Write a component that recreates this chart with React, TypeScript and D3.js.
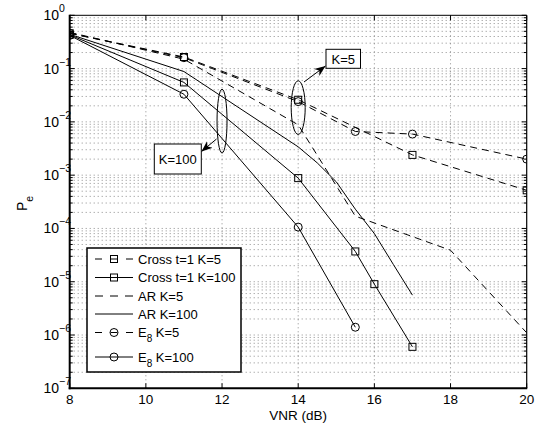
import React from "react";
import * as d3 from "d3";

// values
const crossK5X = [8, 11, 14, 17, 20];
const crossK5Y = [0.46, 0.165, 0.026, 0.0024, 0.00052];
const crossK100X = [8, 11, 14, 15.5, 16, 17];
const crossK100Y = [0.43, 0.055, 0.00088, 3.7e-5, 9e-6, 6e-7];
const arK5X = [8, 11, 14, 15.5, 18, 20];
const arK5Y = [0.48, 0.15, 0.0088, 1.7e-4, 3.9e-5, 1.1e-6];
const arK100X = [8, 11, 14, 14.5, 15, 15.5, 16, 16.5, 17];
const arK100Y = [0.44, 0.088, 3.4e-3, 1.7e-3, 7.5e-4, 2.3e-4, 8e-5, 2.1e-5, 5.6e-6];
const e8K5X = [8, 11, 14, 15.5, 17, 20];
const e8K5Y = [0.46, 0.16, 0.024, 0.0066, 0.0059, 0.002];
const e8K100X = [8, 11, 14, 15.5];
const e8K100Y = [0.42, 0.033, 1.06e-4, 1.4e-6];

const xTicks = [8, 10, 12, 14, 16, 18, 20];
const yExps = [0, -1, -2, -3, -4, -5, -6, -7];

type Series = {
  name: string;
  sub?: string;
  rest: string;
  xs: number[];
  ys: number[];
  dashed: boolean;
  marker: "square" | "circle" | null;
};

const series: Series[] = [
  { name: "Cross t=1 K=5", rest: "", xs: crossK5X, ys: crossK5Y, dashed: true, marker: "square" },
  { name: "Cross t=1 K=100", rest: "", xs: crossK100X, ys: crossK100Y, dashed: false, marker: "square" },
  { name: "AR K=5", rest: "", xs: arK5X, ys: arK5Y, dashed: true, marker: null },
  { name: "AR K=100", rest: "", xs: arK100X, ys: arK100Y, dashed: false, marker: null },
  { name: "E", sub: "8", rest: " K=5", xs: e8K5X, ys: e8K5Y, dashed: true, marker: "circle" },
  { name: "E", sub: "8", rest: " K=100", xs: e8K100X, ys: e8K100Y, dashed: false, marker: "circle" },
];

const W = 537;
const H = 423;
const m = { left: 69.7, right: 10.3, top: 15.3, bottom: 34.7 };
const FONT = "'Liberation Sans', Arial, Helvetica, sans-serif";
const DASH = "7,5";

const Marker = ({ kind, x, y }: { kind: string | null; x: number; y: number }) => {
  if (kind === "square")
    return <rect x={x - 3.5} y={y - 3.5} width={7} height={7} fill="none" stroke="#000" strokeWidth={1} />;
  if (kind === "circle") return <circle cx={x} cy={y} r={4} fill="none" stroke="#000" strokeWidth={1} />;
  return null;
};

const App = () => {
  const x = d3.scaleLinear().domain([8, 20]).range([m.left, W - m.right]);
  const y = d3.scaleLog().domain([1e-7, 1]).range([H - m.bottom, m.top]);
  const x0 = m.left;
  const x1 = W - m.right;
  const y0 = H - m.bottom;
  const y1 = m.top;

  const minor: number[] = [];
  for (let e = -7; e < 0; e++) for (let k = 2; k <= 9; k++) minor.push(k * Math.pow(10, e));

  const line = d3
    .line<[number, number]>()
    .x((d) => x(d[0]))
    .y((d) => y(d[1]));

  const legX = 87;
  const legY = 248;
  const rowsY = [259, 277.5, 296, 314, 332.5, 357];

  return (
    <svg width={W} height={H} style={{ position: "absolute", left: 0, top: 0, background: "#fff" }} fontFamily={FONT}>
      <defs>
        <marker id="arr" viewBox="0 0 10 10" refX="10" refY="5" markerWidth="11" markerHeight="11" markerUnits="userSpaceOnUse" orient="auto">
          <path d="M0,1 L10,5 L0,9 L3,5 Z" fill="#000" />
        </marker>
        <clipPath id="plot">
          <rect x={x0} y={y1} width={x1 - x0} height={y0 - y1} />
        </clipPath>
      </defs>
      <rect x={0} y={0} width={W} height={H} fill="#fff" />

      {/* grid */}
      <g stroke="#707070" strokeWidth={0.8} strokeDasharray="1,3">
        {xTicks.slice(1, -1).map((t) => (
          <line key={"gx" + t} x1={x(t)} x2={x(t)} y1={y1} y2={y0} />
        ))}
        {yExps.slice(1, -1).map((e) => (
          <line key={"gy" + e} x1={x0} x2={x1} y1={y(Math.pow(10, e))} y2={y(Math.pow(10, e))} />
        ))}
        {minor.map((v) => (
          <line key={"gm" + v} x1={x0} x2={x1} y1={y(v)} y2={y(v)} />
        ))}
      </g>

      {/* ticks */}
      <g stroke="#000" strokeWidth={1}>
        {xTicks.map((t) => (
          <g key={"tx" + t}>
            <line x1={x(t)} x2={x(t)} y1={y0} y2={y0 - 5} />
            <line x1={x(t)} x2={x(t)} y1={y1} y2={y1 + 5} />
          </g>
        ))}
        {yExps.map((e) => (
          <g key={"ty" + e}>
            <line x1={x0} x2={x0 + 5} y1={y(Math.pow(10, e))} y2={y(Math.pow(10, e))} />
            <line x1={x1} x2={x1 - 5} y1={y(Math.pow(10, e))} y2={y(Math.pow(10, e))} />
          </g>
        ))}
        {minor.map((v) => (
          <g key={"tm" + v}>
            <line x1={x0} x2={x0 + 3} y1={y(v)} y2={y(v)} />
            <line x1={x1} x2={x1 - 3} y1={y(v)} y2={y(v)} />
          </g>
        ))}
      </g>

      {/* series */}
      <g clipPath="url(#plot)">
        {series.map((s, i) => {
          const pts = s.xs.map((v, j) => [v, s.ys[j]] as [number, number]);
          return (
            <g key={"s" + i}>
              <path d={line(pts) || ""} fill="none" stroke="#000" strokeWidth={1} strokeDasharray={s.dashed ? DASH : undefined} />
              {pts.map((p, j) => (
                <Marker key={j} kind={s.marker} x={x(p[0])} y={y(p[1])} />
              ))}
            </g>
          );
        })}
      </g>

      {/* annotations */}
      <ellipse cx={x(12)} cy={(y(0.041) + y(2.6e-3)) / 2} rx={5} ry={(y(2.6e-3) - y(0.041)) / 2} fill="none" stroke="#000" strokeWidth={1} />
      <line x1={216.5} y1={139} x2={201.5} y2={151.5} stroke="#000" strokeWidth={1} markerEnd="url(#arr)" />
      <rect x={154.3} y={144} width={47} height={30} fill="#fff" stroke="#000" strokeWidth={1} />
      <text x={177.8} y={164} fontSize={13} textAnchor="middle">K=100</text>

      <ellipse cx={x(14)} cy={(y(0.059) + y(5.8e-3)) / 2} rx={7} ry={(y(5.8e-3) - y(0.059)) / 2} fill="none" stroke="#000" strokeWidth={1} />
      <line x1={304} y1={82} x2={325.5} y2={66} stroke="#000" strokeWidth={1} markerEnd="url(#arr)" />
      <rect x={326} y={49.3} width={34.5} height={19} fill="#fff" stroke="#000" strokeWidth={1} />
      <text x={343.3} y={63.5} fontSize={13} textAnchor="middle">K=5</text>

      {/* axes box */}
      <line x1={x0} x2={x1} y1={y1} y2={y1} stroke="#000" strokeWidth={1} />
      <line x1={x1} x2={x1} y1={y1} y2={y0} stroke="#000" strokeWidth={1.2} />
      <line x1={x0} x2={x0} y1={y1 - 0.5} y2={y0 + 1} stroke="#000" strokeWidth={2} />
      <line x1={x0 - 1} x2={x1 + 0.5} y1={y0} y2={y0} stroke="#000" strokeWidth={2} />

      {/* tick labels */}
      {xTicks.map((t) => (
        <text key={"lx" + t} x={x(t)} y={404} fontSize={13.5} textAnchor="middle">
          {t}
        </text>
      ))}
      {yExps.map((e) => (
        <text key={"ly" + e} x={43.5} y={y(Math.pow(10, e)) + 5} fontSize={14}>
          10
          <tspan fontSize={10.5} dy={-8}>
            {e === 0 ? "0" : "\u2212" + -e}
          </tspan>
        </text>
      ))}

      <text x={(x0 + x1) / 2} y={420} fontSize={13.5} textAnchor="middle">VNR (dB)</text>
      <text transform="translate(27,211) rotate(-90)" fontSize={14}>
        P
        <tspan fontSize={10.5} dy={6}>e</tspan>
      </text>

      {/* legend */}
      <rect x={legX} y={legY} width={154} height={124} fill="#fff" stroke="#000" strokeWidth={1.5} />
      {series.map((s, i) => {
        const ry = rowsY[i];
        return (
          <g key={"lg" + i}>
            {s.dashed && s.marker ? (
              <g stroke="#000" strokeWidth={1}>
                <line x1={95} x2={102} y1={ry} y2={ry} />
                <line x1={126} x2={133} y1={ry} y2={ry} />
                <line x1={110.5} x2={117.5} y1={ry} y2={ry} />
              </g>
            ) : (
              <line x1={95} x2={133} y1={ry} y2={ry} stroke="#000" strokeWidth={1} strokeDasharray={s.dashed ? "8,7" : undefined} />
            )}
            <Marker kind={s.marker} x={114} y={ry} />
            <text x={138} y={ry + 4.5} fontSize={13}>
              {s.name}
              {s.sub ? (
                <tspan fontSize={10} dy={5}>
                  {s.sub}
                </tspan>
              ) : null}
              {s.sub ? <tspan dy={-5}>{s.rest}</tspan> : s.rest}
            </text>
          </g>
        );
      })}
    </svg>
  );
};

export default App;
